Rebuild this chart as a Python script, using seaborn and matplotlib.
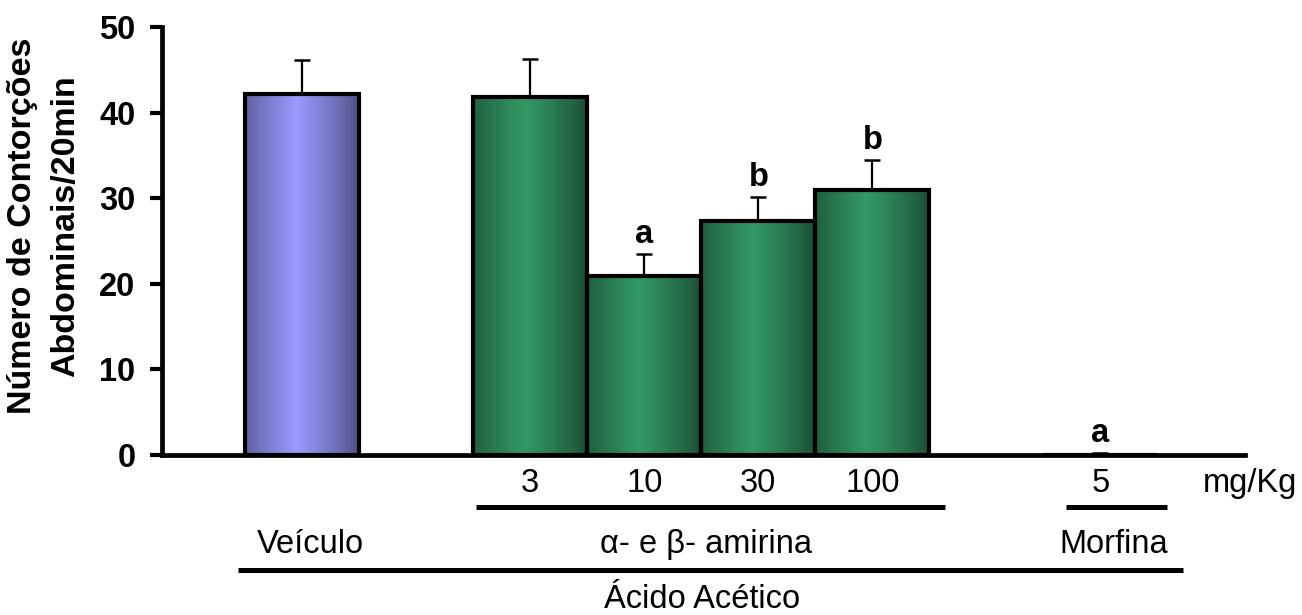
import numpy as np
import pandas as pd
import matplotlib
matplotlib.use("Agg")
import matplotlib.pyplot as plt
import seaborn as sns
from matplotlib.colors import to_rgb

# Data
groups = ['Veículo', '3', '10', '30', '100', '5']
positions = [0, 2, 3, 4, 5, 7]
means = [42.2, 41.8, 20.9, 27.3, 31.0, 0.0]
sem = [3.9, 4.5, 2.6, 2.9, 3.5, 0.3]
letters = ['', '', 'a', 'b', 'b', 'a']
treatment = ['veh', 'ab', 'ab', 'ab', 'ab', 'mor']

COLORS = {
    'veh': ('#4c4c7e', '#9a9aff'),   # (dark edge, light centre)
    'ab': ('#1a4a32', '#339966'),
    'mor': ('#1a4a32', '#339966'),
}

df = pd.DataFrame({'pos': positions, 'mean': means, 'group': treatment})

sns.set_style('white', {'text.color': 'black', 'axes.labelcolor': 'black',
                        'ytick.color': 'black', 'xtick.color': 'black',
                        'axes.edgecolor': 'black'})
plt.rcParams['font.family'] = ['Liberation Sans', 'DejaVu Sans']

FS = 23.5

fig = plt.figure(figsize=(13.02, 6.15), dpi=100)
ax = fig.add_axes([0.1244, 0.260, 0.832, 0.696])

sns.barplot(data=df, x='pos', y='mean', hue='group', native_scale=True,
            width=1.0, dodge=False, legend=False, ax=ax,
            palette={k: v[1] for k, v in COLORS.items()},
            edgecolor='black', linewidth=3)


def gradient_fill(ax, patch, dark, light):
    x0, y0 = patch.get_x(), patch.get_y()
    w, h = patch.get_width(), patch.get_height()
    if h <= 0:
        return
    t = np.linspace(0, 1, 200)
    wgt = np.clip(1 - np.abs(t - 0.45) / 0.55, 0, 1) ** 0.8
    d, l = np.array(to_rgb(dark)), np.array(to_rgb(light))
    cols = d[None, :] + (l - d)[None, :] * wgt[:, None]
    img = ax.imshow(cols[None, :, :], extent=[x0, x0 + w, y0, y0 + h],
                    aspect='auto', zorder=2, interpolation='bilinear')
    img.set_clip_path(patch)
    patch.set_facecolor('none')
    patch.set_zorder(3)


patches = sorted(ax.patches, key=lambda p: p.get_x())
for p, grp in zip(patches, treatment):
    gradient_fill(ax, p, *COLORS[grp])

ax.errorbar(positions, means, yerr=[np.zeros(len(sem)), sem], fmt='none',
            ecolor='black', elinewidth=1.6, capsize=6, capthick=1.8, zorder=1)

for x, m, s, lt in zip(positions, means, sem, letters):
    if lt:
        ax.text(x, m + s + 0.4, lt, ha='center', va='bottom',
                fontsize=FS, fontweight='bold')

ax.set_xlim(-1.23, 8.27)
ax.set_ylim(0, 50)
ax.set_yticks([0, 10, 20, 30, 40, 50])
ax.set_yticklabels(['0', '10', '20', '30', '40', '50'], fontsize=FS,
                   fontweight='bold')
ax.set_xticks([])
ax.set_xlabel('')
ax.set_ylabel('Número de Contorções\nAbdominais/20min', fontsize=24.5,
              fontweight='bold', linespacing=1.5)
ax.yaxis.set_label_coords(-0.075, 0.535)
ax.tick_params(axis='y', direction='out', length=9, width=3, left=True, pad=10)
for s in ['top', 'right']:
    ax.spines[s].set_visible(False)
for s in ['left', 'bottom']:
    ax.spines[s].set_linewidth(3.4)
ax.spines['left'].set_bounds(0, 50)


# labels below the axis (y in axes fraction, from pixel rows of the figure)
def yfrac(ypx):
    return (455 - ypx) / 428


tr = ax.get_xaxis_transform()
dose_y = yfrac(492)
for x, g in zip(positions[1:], groups[1:]):
    ax.text(x, dose_y, g, transform=tr, ha='center', va='baseline', fontsize=FS)
ax.text(8.31, dose_y, 'mg/Kg', transform=tr, ha='center', va='baseline', fontsize=FS)

line_kw = dict(transform=tr, color='black', lw=3.6, clip_on=False,
               solid_capstyle='butt')
ax.plot([1.52, 5.64], [yfrac(507)] * 2, **line_kw)
ax.plot([6.70, 7.58], [yfrac(507)] * 2, **line_kw)

grp_y = yfrac(553)
ax.text(0.07, grp_y, 'Veículo', transform=tr, ha='center', va='baseline', fontsize=FS)
ax.text(3.54, grp_y, 'α- e β- amirina', transform=tr, ha='center', va='baseline', fontsize=FS)
ax.text(7.12, grp_y, 'Morfina', transform=tr, ha='center', va='baseline', fontsize=FS)

ax.plot([-0.56, 7.72], [yfrac(570)] * 2, **line_kw)
ax.text(3.51, yfrac(608), 'Ácido Acético', transform=tr, ha='center', va='baseline',
        fontsize=FS)

fig.savefig('out.png', dpi=100)
